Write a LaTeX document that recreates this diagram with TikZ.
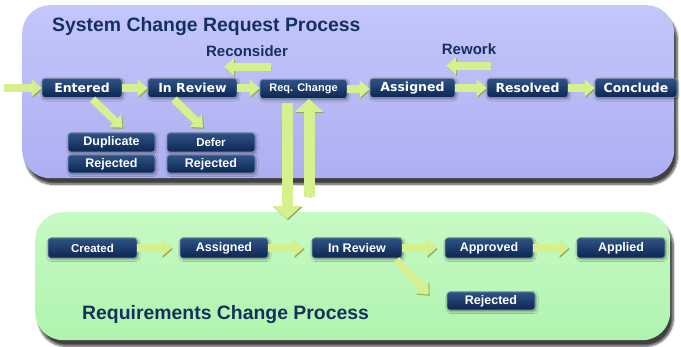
\documentclass[tikz,border=0pt]{standalone}
\usepackage{fontspec}
\setmainfont{Liberation Sans}
\newfontfamily\verdfont{DejaVu Sans}
\usetikzlibrary{arrows.meta,shadows.blur}

\begin{document}
\begin{tikzpicture}[x=1pt, y=-1pt]
    \definecolor{laneBlue}{HTML}{ACAFF2}
    \definecolor{laneBlueTop}{HTML}{C4C7FA}
    \definecolor{laneGreen}{HTML}{B0F4AF}
    \definecolor{laneGreenTop}{HTML}{C6FAC4}
    \definecolor{titleColour}{HTML}{16305E}
    \definecolor{boxTop}{HTML}{2F5386}
    \definecolor{boxBottom}{HTML}{0B2652}
    \definecolor{boxEdge}{HTML}{7A8CA6}
    \definecolor{arrowColour}{HTML}{D6F08E}
    \definecolor{arrowShade}{HTML}{8FA962}

    \tikzset{
        lane/.style={rounded corners=28pt, inner sep=0pt, anchor=north west,
            blur shadow={shadow xshift=3pt, shadow yshift=-6pt, shadow opacity=75, shadow blur steps=10}},
        stage/.style={rounded corners=3pt, draw=boxEdge, line width=0.7pt,
            top color=boxTop, bottom color=boxBottom, text=white,
            font=\verdfont\bfseries\fontsize{12.5}{14}\selectfont,
            minimum height=19pt, inner sep=0pt,
            blur shadow={shadow xshift=1pt, shadow yshift=-1.5pt, shadow opacity=40, shadow blur steps=4}},
        state/.style={stage, font=\bfseries\fontsize{12.5}{14}\selectfont},
        flow/.style={line width=7.5pt, draw=arrowColour, -{Triangle[width=17pt,length=10pt]},
            preaction={draw=arrowShade, transform canvas={shift={(1pt,-1.2pt)}}}},
        bigflow/.style={flow, line width=11pt, -{Triangle[width=28pt,length=13pt]}},
        heading/.style={text=titleColour, font=\bfseries\fontsize{19.4}{22}\selectfont,
            anchor=base west, inner sep=0pt},
        note/.style={text=titleColour, font=\bfseries\fontsize{15}{17}\selectfont,
            anchor=base, inner sep=0pt}
    }

    \useasboundingbox (0,0) rectangle (681,347);

    % Two process lanes
    \node[lane, top color=laneBlueTop, bottom color=laneBlue,
        minimum width=652pt, minimum height=173pt] (scr) at (22,5) {};
    \node[lane, top color=laneGreenTop, bottom color=laneGreen,
        minimum width=635pt, minimum height=128pt] (rcp) at (35,212) {};

    \node[heading] (scrtitle) at (52,32) {System Change Request Process};
    \node[heading] (rcptitle) at (82,320) {Requirements Change Process};

    % System change request states
    \node[stage, minimum width=80pt] (entered) at (82,88) {Entered};
    \node[stage, minimum width=89pt] (review) at (192.5,88) {In Review};
    \node[state, minimum width=87pt, font=\bfseries\fontsize{11}{13}\selectfont] (reqchange) at (303.5,89) {Req. Change};
    \node[stage, minimum width=85pt] (assigned) at (412.5,88) {Assigned};
    \node[stage, minimum width=81pt] (resolved) at (527.5,88) {Resolved};
    \node[stage, minimum width=82pt] (conclude) at (636,88) {Conclude};

    \node[state, minimum width=87pt] (duplicate) at (111.5,142.5) {Duplicate};
    \node[state, minimum width=87pt, minimum height=18pt] (rejectedA) at (111.5,164) {Rejected};
    \node[state, minimum width=88pt, font=\bfseries\fontsize{11.5}{13}\selectfont] (defer) at (211,142.5) {Defer};
    \node[state, minimum width=88pt, minimum height=18pt] (rejectedB) at (211,164) {Rejected};

    % Requirements change states
    \node[state, minimum width=89pt, minimum height=20pt, font=\bfseries\fontsize{11.5}{13}\selectfont] (createdR) at (92.5,248) {Created};
    \node[state, minimum width=88pt, minimum height=20pt] (assignedR) at (224,248) {Assigned};
    \node[state, minimum width=90pt, minimum height=20pt] (reviewR) at (357,248) {In Review};
    \node[state, minimum width=88pt, minimum height=20pt] (approved) at (489,248) {Approved};
    \node[state, minimum width=88pt, minimum height=20pt] (applied) at (621,248) {Applied};
    \node[state, minimum width=88pt, minimum height=18pt] (rejectedR) at (491,301) {Rejected};

    % Main flow
    \coordinate (start) at (4,88);
    \draw[flow] (start) -- (entered.west);
    \foreach \a/\b in {entered/review, review/reqchange, reqchange/assigned, assigned/resolved, resolved/conclude}
        \draw[flow] (\a.east) -- (\a.east -| \b.west);
    \foreach \a/\b in {createdR/assignedR, assignedR/reviewR, reviewR/approved, approved/applied}
        \draw[flow, shorten >=8pt] (\a.east) -- (\b.west);

    % Side exits
    \draw[flow, shorten <=2pt] ([xshift=9pt]entered.south) -- ([xshift=11pt,yshift=5pt]duplicate.north);
    \draw[flow, shorten <=2pt] ([xshift=-20pt]review.south) -- ([xshift=-8pt,yshift=5pt]defer.north);
    \draw[flow, shorten <=2pt] ([xshift=38pt]reviewR.south) -- ([xshift=-18pt,yshift=-3pt]rejectedR.north west);

    % Loops back
    \node[note] (reconsider) at (247,57) {Reconsider};
    \coordinate (reconR) at (271,67);
    \coordinate (reconL) at (224,67);
    \draw[flow] (reconR) -- (reconL);

    \node[note] (rework) at (469,55) {Rework};
    \coordinate (reworkR) at (491,66);
    \coordinate (reworkL) at (446,66);
    \draw[flow] (reworkR) -- (reworkL);

    % Hand-over between the two lanes
    \coordinate (downend) at (287,219);
    \coordinate (upstart) at (309,197);
    \draw[bigflow, shorten <=4pt] (reqchange.south -| downend) -- (downend);
    \draw[bigflow] (upstart) -- (reqchange.south -| upstart);

\end{tikzpicture}
\end{document}
